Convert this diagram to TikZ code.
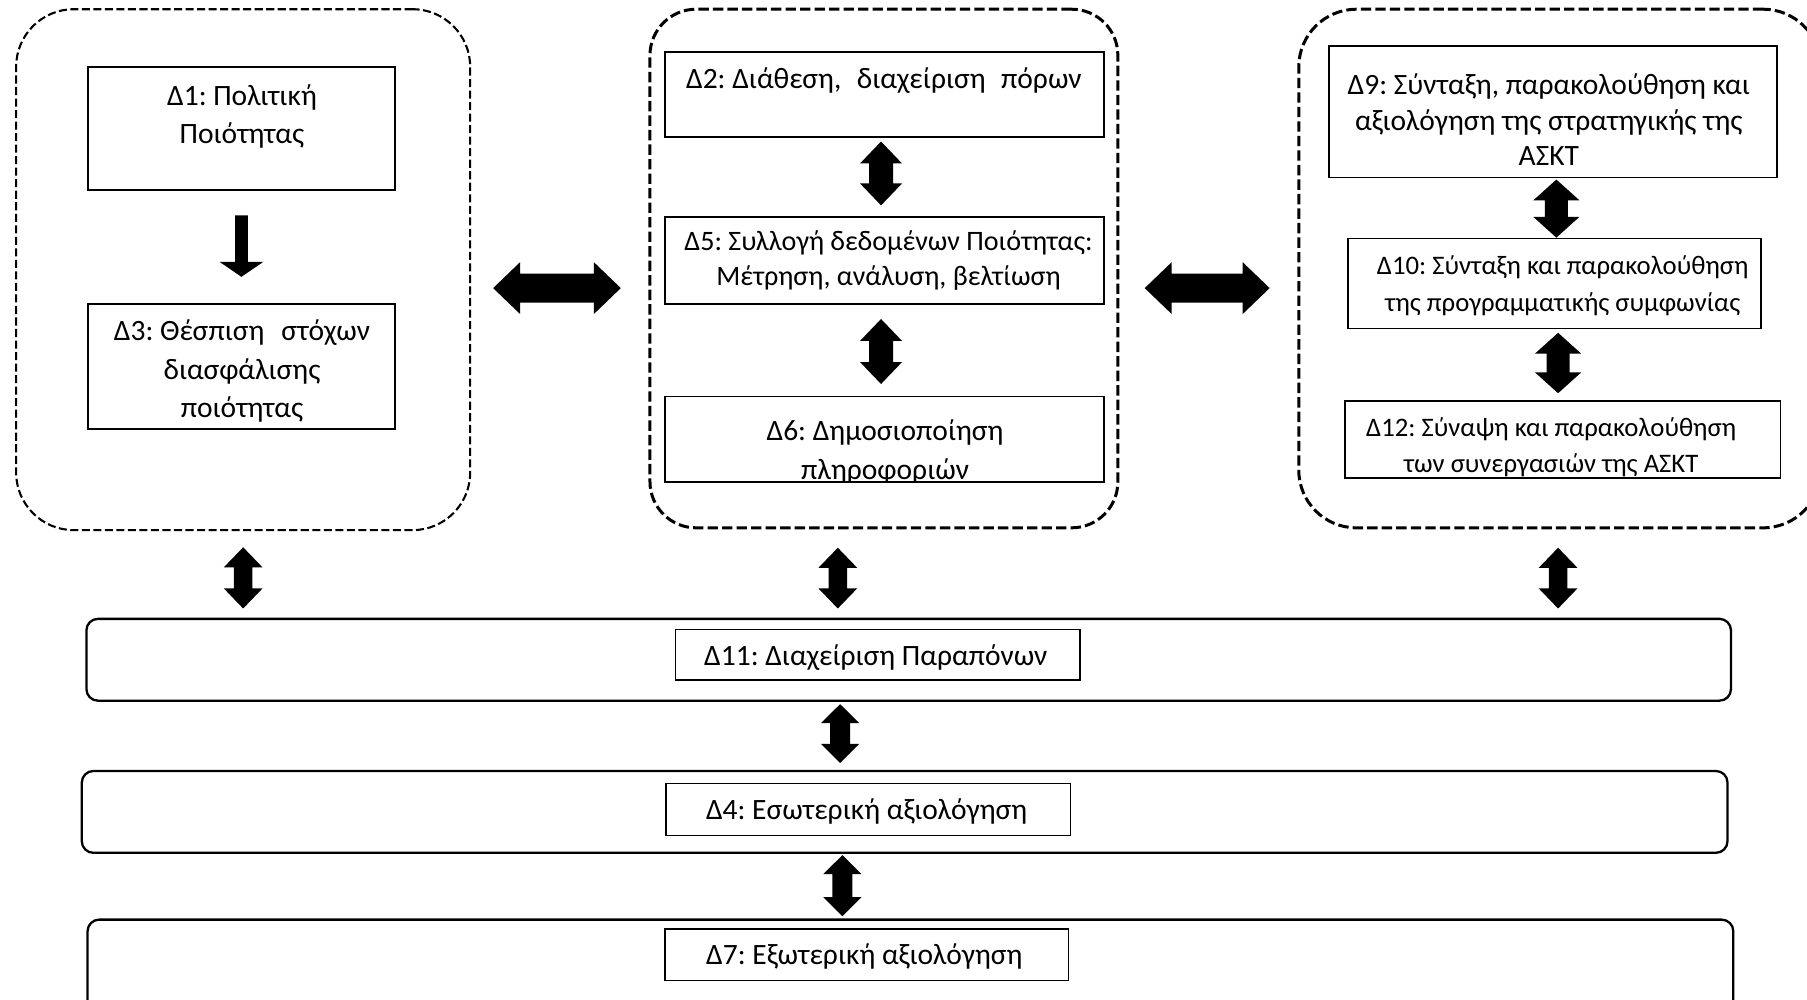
\documentclass[tikz,border=0pt]{standalone}
\usepackage{fontspec}
\setmainfont{Carlito}
\usetikzlibrary{calc,fit}
\frenchspacing

% Block arrows drawn as filled outlines between two anchor points.
% #1 upper point, #2 lower point, #3 half shaft, #4 half head, #5 head length
\newcommand{\dblvert}[5]{%
  \fill let \p1=#1, \p2=#2 in
    (\x1,\y1) -- (\x1+#4,\y1-#5) -- (\x1+#3,\y1-#5) -- (\x1+#3,\y2+#5)
    -- (\x1+#4,\y2+#5) -- (\x1,\y2) -- (\x1-#4,\y2+#5) -- (\x1-#3,\y2+#5)
    -- (\x1-#3,\y1-#5) -- (\x1-#4,\y1-#5) -- cycle;}
% #1 left point, #2 right point
\newcommand{\dblhorz}[5]{%
  \fill let \p1=#1, \p2=#2 in
    (\x1,\y1) -- (\x1+#5,\y1+#4) -- (\x1+#5,\y1+#3) -- (\x2-#5,\y1+#3)
    -- (\x2-#5,\y1+#4) -- (\x2,\y1) -- (\x2-#5,\y1-#4) -- (\x2-#5,\y1-#3)
    -- (\x1+#5,\y1-#3) -- (\x1+#5,\y1-#4) -- cycle;}
% single downward arrow: #1 top of shaft, #2 tip
\newcommand{\downblock}[5]{%
  \fill let \p1=#1, \p2=#2 in
    (\x1-#3,\y1) -- (\x1+#3,\y1) -- (\x1+#3,\y2+#5) -- (\x1+#4,\y2+#5)
    -- (\x1,\y2) -- (\x1-#4,\y2+#5) -- (\x1-#3,\y2+#5) -- cycle;}

\tikzset{
  grp/.style={draw, line width=1.3pt, dash pattern=on 4.5pt off 1.8pt,
              rounded corners=22pt, inner sep=0pt},
  grpthin/.style={grp, line width=0.9pt, dash pattern=on 3.5pt off 1.5pt,
              rounded corners=25pt},
  box/.style={draw, line width=0.8pt, inner sep=0pt},
  band/.style={draw, line width=1pt, rounded corners=5pt, inner sep=0pt},
  tag/.style={draw, line width=0.6pt, inner sep=0pt},
  txt/.style={align=center, inner sep=0pt, font=\fontsize{12.8}{16.75}\selectfont},
  txtm/.style={txt, font=\fontsize{12.2}{15.5}\selectfont},
  txts/.style={txt, font=\fontsize{11.6}{15.8}\selectfont},
}

\begin{document}
\begin{tikzpicture}[x=0.5pt, y=-0.5pt]
\useasboundingbox (0,0) rectangle (1568,867);
\fill[white] (0,0) rectangle (1568,867);

% dashed groups
\node[grpthin, fit={(14,8) (408,460)}] (g1) {};
\node[grp, fit={(564,8) (970,458)}, rounded corners=20pt] (g2) {};
\node[grp, fit={(1127,8) (1580,458)}, rounded corners=25pt] (g3) {};

% left group
\node[box, fit={(76,58) (343,165)}] (d1) {};
\node[txt] (t1) at (210,101) {Δ1: Πολιτική\\Ποιότητας};
\node[box, fit={(76,264) (343,372)}] (d3) {};
\node[txt] (t3) at (210,322) {Δ3: Θέσπιση\hspace{0.35em} στόχων\\διασφάλισης\\ποιότητας};

% middle group
\node[box, fit={(577,45) (958,119)}] (d2) {};
\node[txt] (t2) at (767,70) {Δ2: Διάθεση,\hspace{0.3em} διαχείριση\hspace{0.3em} πόρων};
\node[box, fit={(577,188) (958,264)}] (d5) {};
\node[txtm] (t5) at (771,226) {Δ5: Συλλογή δεδομένων Ποιότητας:\\Μέτρηση, ανάλυση, βελτίωση};
\node[box, fit={(577,344) (958,418)}] (d6) {};
\begin{scope}
  \clip (d6.south west) rectangle (d6.north east);
  \node[txt] (t6) at (768,392) {Δ6: Δημοσιοποίηση\\πληροφοριών};
\end{scope}

% right group
\node[box, fit={(1153,40) (1542,154)}] (d9) {};
\node[txt, font=\fontsize{12.8}{15.5}\selectfont] (t9) at (1344,104)
  {Δ9: Σύνταξη, παρακολούθηση και\\αξιολόγηση της στρατηγικής της\\ΑΣΚΤ};
\node[box, fit={(1170,207) (1528,285)}] (d10) {};
\node[txts] (t10) at (1356,248) {Δ10: Σύνταξη και παρακολούθηση\\της προγραμματικής συμφωνίας};
\node[box, fit={(1167,348) (1545,415)}] (d12) {};
\node[txts] (t12) at (1346,388) {Δ12: Σύναψη και παρακολούθηση\\των συνεργασιών της ΑΣΚΤ};

% bottom bands
\node[band, fit={(75,537) (1502,608)}] (b11) {};
\node[tag, fit={(586,546) (937,590)}] (d11) {};
\node[txt] (t11) at (760,571) {Δ11: Διαχείριση Παραπόνων};
\node[band, fit={(71,669) (1499,740)}] (b4) {};
\node[tag, fit={(578,680) (929,725)}] (d4) {};
\node[txt] (t4) at (752,704) {Δ4: Εσωτερική αξιολόγηση};
\node[band, fit={(76,798) (1504,885)}] (b7) {};
\node[tag, fit={(577,806) (927,851)}] (d7) {};
\node[txt] (t7) at (750,830) {Δ7: Εξωτερική αξιολόγηση};

% arrows inside the groups
\downblock{($(d1.south)+(0,21)$)}{($(d3.north)+(0,-23)$)}{2.75pt}{9.5pt}{6.5pt}
\dblvert{($(d2.south)+(-3,3)$)}{($(d5.north)+(-3,-9)$)}{5.2pt}{9.1pt}{9.5pt}
\dblvert{($(d5.south)+(-3,12)$)}{($(d6.north)+(-3,-10)$)}{5.2pt}{9.1pt}{9.5pt}
\dblvert{($(d9.south)+(3,1)$)}{($(d10.north)+(3,0)$)}{5pt}{10pt}{9pt}
\dblvert{($(d10.south)+(3,3)$)}{($(d12.north)+(3,-6)$)}{5pt}{10pt}{9pt}

% arrows between the groups
\dblhorz{($(g1.east |- 0,250)+(19,0)$)}{($(g2.west |- 0,250)+(-24,0)$)}{6.25pt}{11.25pt}{11.7pt}
\dblhorz{($(g2.east |- 0,250)+(22,0)$)}{($(g3.west |- 0,250)+(-24,0)$)}{6.25pt}{11.25pt}{11.7pt}

% arrows towards the bands
\dblvert{($(g1.south -| 211,0)+(0,14)$)}{($(b11.north -| 211,0)+(0,-8)$)}{4pt}{8.4pt}{8.7pt}
\dblvert{($(g2.south -| 727,0)+(0,16)$)}{($(b11.north -| 727,0)+(0,-8)$)}{4pt}{8.4pt}{8.7pt}
\dblvert{($(g3.south -| 1352,0)+(0,16)$)}{($(b11.north -| 1352,0)+(0,-8)$)}{4pt}{8.4pt}{8.7pt}
\dblvert{($(b11.south -| 729,0)+(0,2)$)}{($(b4.north -| 729,0)+(0,-6)$)}{4.35pt}{8.3pt}{8.25pt}
\dblvert{($(b4.south -| 731,0)+(0,1)$)}{($(b7.north -| 731,0)+(0,-2)$)}{4.35pt}{8.3pt}{8.25pt}
\end{tikzpicture}
\end{document}
